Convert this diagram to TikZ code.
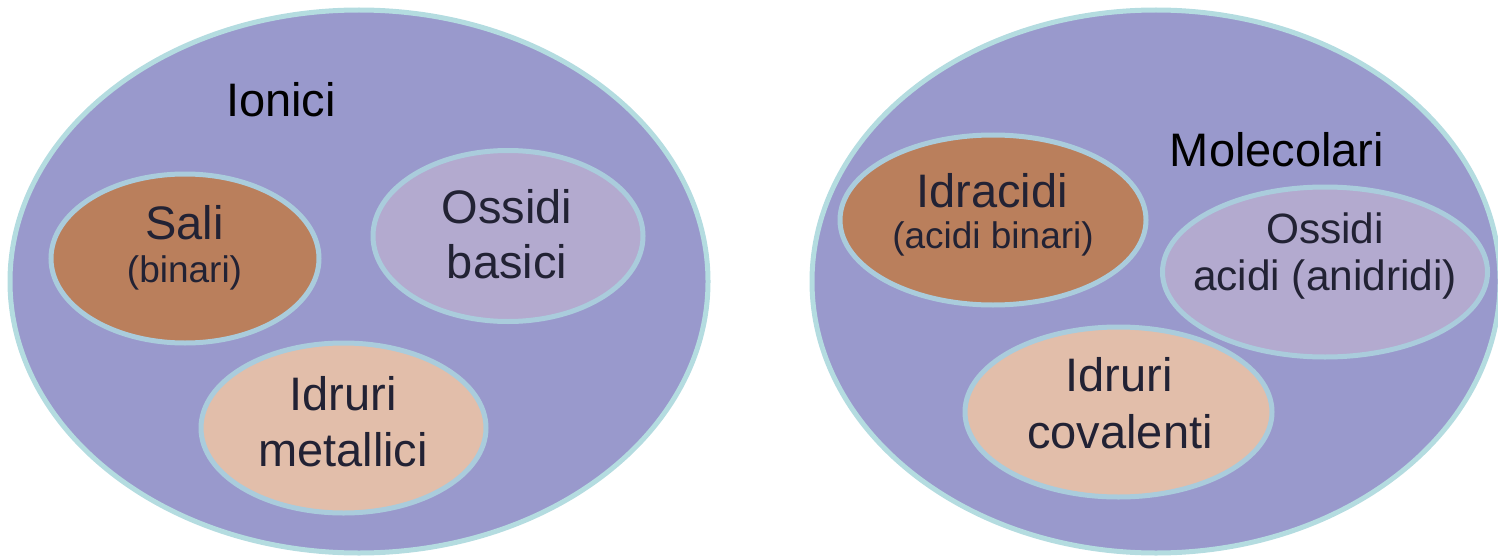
\documentclass[tikz,border=0pt]{standalone}
\usepackage{fontspec}
\setmainfont{Liberation Sans}
\usetikzlibrary{shapes.geometric}
\definecolor{bigfill}{RGB}{153,153,204}
\definecolor{bigline}{RGB}{180,220,224}
\definecolor{smallline}{RGB}{170,204,220}
\definecolor{brownfill}{RGB}{186,127,92}
\definecolor{lilacfill}{RGB}{179,170,207}
\definecolor{peachfill}{RGB}{226,190,170}
\definecolor{txt}{RGB}{34,34,52}
\tikzset{
  big/.style={ellipse, draw=bigline, fill=bigfill, line width=2.5pt, inner sep=0pt},
  small/.style={ellipse, draw=smallline, line width=2.5pt, inner sep=0pt},
  lbl/.style={anchor=base, inner sep=0pt, text=txt, font=\fontsize{23.5}{28}\selectfont},
  lblsm/.style={anchor=base, inner sep=0pt, text=txt, font=\fontsize{18.5}{22}\selectfont},
  lblmid/.style={anchor=base, inner sep=0pt, text=txt, font=\fontsize{21.2}{25}\selectfont},
  title/.style={anchor=base, inner sep=0pt, text=black, font=\fontsize{23.5}{28}\selectfont}
}
\begin{document}
\begin{tikzpicture}[x=0.5pt,y=-0.5pt]
\useasboundingbox (0,0) rectangle (1498,556);
% left big
\node[big, minimum width=349pt, minimum height=271.5pt] (ion) at (359,281.5) {};
\node[title] (tion) at (281,117) {Ionici};
\node[small, fill=brownfill, minimum width=134pt, minimum height=84.5pt] (sali) at (185,258.5) {};
\node[lbl] (tsali) at (184.5,239) {Sali};
\node[lblsm] (tsali2) at (184.5,282) {(binari)};
\node[small, fill=lilacfill, minimum width=135pt, minimum height=85.5pt] (ob) at (508,236) {};
\node[lbl] (tob1) at (507,223) {Ossidi};
\node[lbl] (tob2) at (507,278) {basici};
\node[small, fill=peachfill, minimum width=142.5pt, minimum height=85pt] (im) at (343.5,428) {};
\node[lbl] (tim1) at (343,410) {Idruri};
\node[lbl] (tim2) at (343,466) {metallici};
% right big
\node[big, minimum width=344pt, minimum height=271.5pt] (mol) at (1156,281.5) {};
\node[title] (tmol) at (1277,166) {Molecolari};
\node[small, fill=brownfill, minimum width=153pt, minimum height=85pt] (idr) at (993,220) {};
\node[lbl] (tidr1) at (992,207) {Idracidi};
\node[lblsm] (tidr2) at (993,248) {(acidi binari)};
\node[small, fill=lilacfill, minimum width=162.5pt, minimum height=85pt] (oa) at (1325,272) {};
\node[lblmid] (toa1) at (1325,243) {Ossidi};
\node[lblmid] (toa2) at (1325,290) {acidi (anidridi)};
\node[small, fill=peachfill, minimum width=153.5pt, minimum height=85pt] (ic) at (1118.5,412) {};
\node[lbl] (tic1) at (1119,391) {Idruri};
\node[lbl] (tic2) at (1120,448) {covalenti};
\end{tikzpicture}
\end{document}
